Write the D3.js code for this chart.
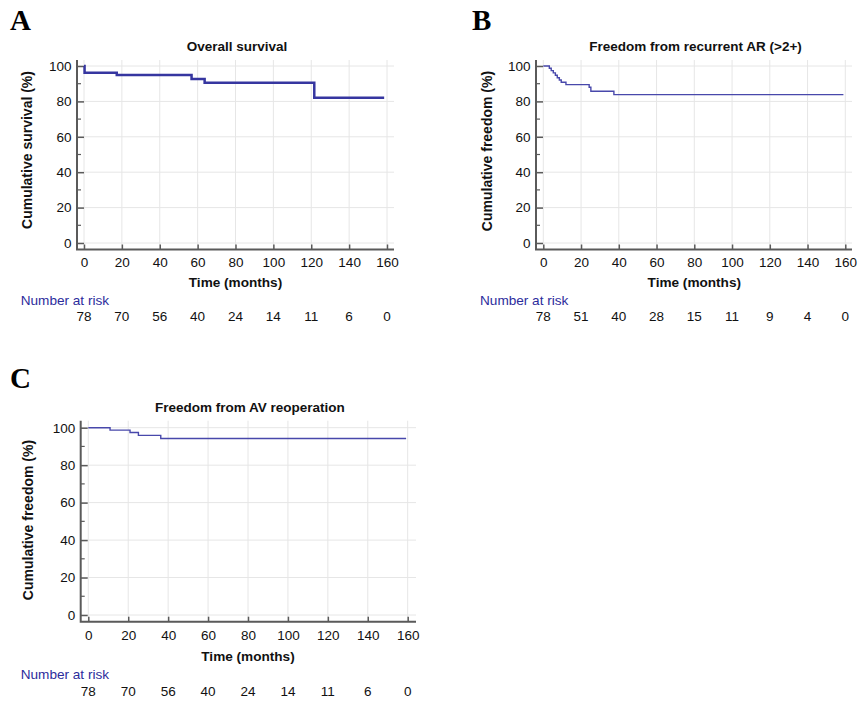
<!DOCTYPE html>
<html>
<head>
<meta charset="utf-8">
<script src="https://cdn.jsdelivr.net/npm/d3@7"></script>
<style>
  body { margin: 0; background: #fff; }
  text { font-family: "Liberation Sans", Arial, sans-serif; }
</style>
</head>
<body>
<script>
// tick values
var monthTicks = [0, 20, 40, 60, 80, 100, 120, 140, 160];
var pctTicks = [0, 20, 40, 60, 80, 100];
var pctMinor = [10, 30, 50, 70, 90];

// A: overall survival
var osTime = [0, 0.3, 17.3, 56.8, 63.7, 121.6, 158.5];
var osPct = [100, 96.2, 94.9, 92.7, 90.5, 82.0, 82.0];
var osRisk = [78, 70, 56, 40, 24, 14, 11, 6, 0];

// B: freedom from recurrent AR
var arTime = [0, 3.2, 4.2, 5.3, 6.4, 7.4, 8.5, 9.5, 12.0, 24.3, 25.2, 37.4, 159];
var arPct = [100, 98.7, 97.4, 96.1, 94.8, 93.4, 92.1, 90.8, 89.5, 88.0, 85.7, 83.8, 83.8];
var arRisk = [78, 51, 40, 28, 15, 11, 9, 4, 0];

// C: freedom from AV reoperation
var avTime = [0, 10.9, 20.9, 25.1, 36.3, 159.2];
var avPct = [100, 98.7, 97.4, 95.9, 94.2, 94.2];
var avRisk = [78, 70, 56, 40, 24, 14, 11, 6, 0];

var panels = [
  { letter: "A", lx: 10, ly: 30, title: "Overall survival", ylabel: "Cumulative survival (%)",
    x0: 84, x1: 387, y0: 243, y1: 66, top: 60, bottom: 249.5, left: 77, right: 394,
    titleY: 51, ylabX: 32, ylabY: 150, tickY: 266.7, xlabY: 287.3, nrX: 20.7, nrY: 305, riskY: 320.7,
    time: osTime, pct: osPct, risk: osRisk, stroke: "#3636a0", width: 2.5 },
  { letter: "B", lx: 472, ly: 30, title: "Freedom from recurrent AR (>2+)", ylabel: "Cumulative freedom (%)",
    x0: 543.3, x1: 845.3, y0: 243, y1: 66, top: 60, bottom: 249.5, left: 536, right: 852,
    titleY: 51, ylabX: 491.5, ylabY: 151, tickY: 266.7, xlabY: 287.3, nrX: 480, nrY: 305, riskY: 320.7,
    time: arTime, pct: arPct, risk: arRisk, stroke: "#4848ab", width: 1.4 },
  { letter: "C", lx: 10, ly: 388, title: "Freedom from AV reoperation", ylabel: "Cumulative freedom (%)",
    x0: 88.3, x1: 407.7, y0: 615, y1: 427.7, top: 420.7, bottom: 621.7, left: 80.7, right: 416,
    titleY: 412.3, ylabX: 33, ylabY: 520, tickY: 640, xlabY: 661, nrX: 20.7, nrY: 679.3, riskY: 696,
    time: avTime, pct: avPct, risk: avRisk, stroke: "#4848ab", width: 1.4 }
];

var svg = d3.select("body").append("svg")
  .attr("width", 858)
  .attr("height", 701);

svg.append("rect").attr("width", 858).attr("height", 701).attr("fill", "#fff");

panels.forEach(function (p) {
  var x = d3.scaleLinear().domain([0, 160]).range([p.x0, p.x1]);
  var y = d3.scaleLinear().domain([0, 100]).range([p.y0, p.y1]);
  var g = svg.append("g");

  // grid
  g.selectAll(".vgrid").data(monthTicks).enter().append("line")
    .attr("x1", function (d) { return x(d); }).attr("x2", function (d) { return x(d); })
    .attr("y1", p.top).attr("y2", p.bottom)
    .attr("stroke", "#e6e6e6").attr("stroke-width", 1);
  g.selectAll(".hgrid").data(pctTicks).enter().append("line")
    .attr("x1", p.left).attr("x2", p.right)
    .attr("y1", function (d) { return y(d); }).attr("y2", function (d) { return y(d); })
    .attr("stroke", "#e6e6e6").attr("stroke-width", 1);

  // axes (ticks pointing inward, domain drawn by hand so it can overrun the data range)
  var xAxis = d3.axisBottom(x).tickValues(monthTicks).tickSizeInner(-5).tickSizeOuter(0).tickFormat(d3.format("d"));
  var gx = g.append("g").attr("transform", "translate(0," + p.bottom + ")").call(xAxis);
  gx.select(".domain").remove();
  gx.selectAll(".tick line").attr("stroke", "#5a5a5a").attr("stroke-width", 1.5);
  gx.selectAll(".tick text").attr("y", null).attr("dy", null)
    .attr("transform", "translate(0," + (p.tickY - p.bottom) + ")")
    .attr("fill", "#111").style("font-size", "13.5px");

  var yAxis = d3.axisLeft(y).tickValues(pctTicks).tickSizeInner(-7).tickSizeOuter(0).tickPadding(5.5);
  var gy = g.append("g").attr("transform", "translate(" + p.left + ",0)").call(yAxis);
  gy.select(".domain").remove();
  gy.selectAll(".tick line").attr("stroke", "#5a5a5a").attr("stroke-width", 1.5);
  gy.selectAll(".tick text").attr("x", -5.5).attr("fill", "#111").style("font-size", "13.5px");

  g.selectAll(".minor").data(pctMinor).enter().append("line")
    .attr("x1", p.left).attr("x2", p.left + 4)
    .attr("y1", function (d) { return y(d); }).attr("y2", function (d) { return y(d); })
    .attr("stroke", "#5a5a5a").attr("stroke-width", 1.2);

  g.append("path")
    .attr("d", "M" + p.left + "," + p.top + "V" + p.bottom + "H" + p.right)
    .attr("fill", "none").attr("stroke", "#5a5a5a").attr("stroke-width", 2);

  // survival curve
  var pts = p.time.map(function (t, i) { return [t, p.pct[i]]; });
  var line = d3.line()
    .x(function (d) { return x(d[0]); })
    .y(function (d) { return y(d[1]); })
    .curve(d3.curveStepAfter);
  g.append("path").datum(pts).attr("d", line)
    .attr("fill", "none").attr("stroke", p.stroke).attr("stroke-width", p.width);

  // labels
  svg.append("text").attr("x", p.lx).attr("y", p.ly).text(p.letter)
    .style("font-family", "'Liberation Serif', 'Times New Roman', serif")
    .style("font-weight", "bold").style("font-size", "29px").attr("fill", "#000");

  svg.append("text").attr("x", (p.left + p.right) / 2 + 1.5).attr("y", p.titleY)
    .attr("text-anchor", "middle").style("font-weight", "bold").style("font-size", "13.5px")
    .attr("fill", "#111").text(p.title);

  svg.append("text").attr("transform", "translate(" + p.ylabX + "," + p.ylabY + ") rotate(-90)")
    .attr("text-anchor", "middle").style("font-weight", "bold").style("font-size", "14px")
    .attr("fill", "#111").text(p.ylabel);

  svg.append("text").attr("x", (x(0) + x(160)) / 2).attr("y", p.xlabY)
    .attr("text-anchor", "middle").style("font-weight", "bold").style("font-size", "13.6px")
    .attr("fill", "#111").text("Time (months)");

  svg.append("text").attr("x", p.nrX).attr("y", p.nrY)
    .style("font-size", "13.6px").attr("fill", "#2c2c9c").text("Number at risk");

  svg.selectAll(null).data(p.risk).enter().append("text")
    .attr("x", function (d, i) { return x(monthTicks[i]); })
    .attr("y", p.riskY)
    .attr("text-anchor", "middle").style("font-size", "13.5px").attr("fill", "#111")
    .text(function (d) { return d; });
});
</script>
</body>
</html>
